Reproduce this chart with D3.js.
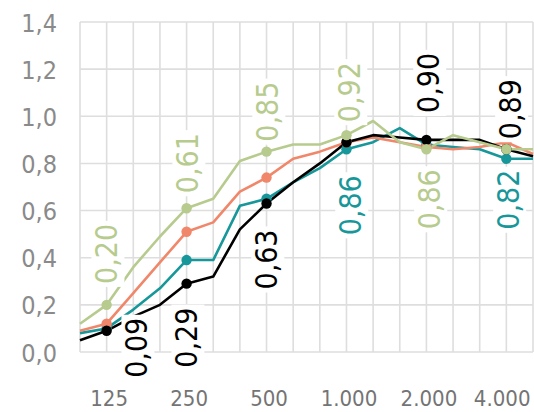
<!DOCTYPE html>
<html><head><meta charset="utf-8">
<script src="https://cdn.jsdelivr.net/npm/d3@7"></script>
<style>body{margin:0;background:#fff}svg{display:block}</style>
</head><body><svg id="c" width="534" height="412"></svg>
<script>
// ---- data ----
const bands = ["100","125","160","200","250","315","400","500","630","800","1000","1250","1600","2000","2500","3150","4000","5000"];
const tickBands = ["125","250","500","1000","2000","4000"];
const tickLabels = ["125","250","500","1.000","2.000","4.000"];
const yTicks = [0, 0.2, 0.4, 0.6, 0.8, 1.0, 1.2, 1.4];
const markerBands = ["125","250","500","1000","2000","4000"];

const seriesNames = ["teal","salmon","black","green"];
const teal   = [0.08,0.10,0.18,0.27,0.39,0.39,0.62,0.65,0.72,0.78,0.86,0.89,0.95,0.88,0.87,0.86,0.82,0.82];
const salmon = [0.09,0.12,0.25,0.38,0.51,0.55,0.68,0.74,0.82,0.85,0.89,0.91,0.89,0.87,0.86,0.87,0.89,0.84];
const black  = [0.05,0.09,0.15,0.20,0.29,0.32,0.52,0.63,0.72,0.80,0.89,0.92,0.91,0.90,0.90,0.90,0.86,0.83];
const green  = [0.12,0.20,0.36,0.49,0.61,0.65,0.81,0.85,0.88,0.88,0.92,0.98,0.89,0.86,0.92,0.89,0.86,0.86];

// data labels: which series / band is labelled
const labelSeries = ["green","black","green","black","green","black","green","teal","black","green","salmon","teal"];
const labelBands  = ["125","125","250","250","500","500","1000","1000","2000","2000","4000","4000"];

// ---- layout / style ----
const colors = {teal:"#17979a", salmon:"#f0876a", black:"#000000", green:"#b6cb8d"};
const labelColors = {teal:"#17979a", salmon:"#000000", black:"#000000", green:"#b6cb8d"};
const labelNudge = [[0,-51],[30,17],[1,-45],[0,54],[1,-40],[0,56],[3,-43],[4,56],[2,-57],[3,50],[4,-33],[2,41]];
const values = {teal, salmon, black, green};
const FONT = "'Liberation Sans Narrow','DejaVu Sans Condensed','Roboto Condensed',sans-serif";

const svg = d3.select("#c");
const x = d3.scalePoint().domain(bands).range([80, 533]);
const y = d3.scaleLinear().domain([0, 1.4]).range([352, 22]);

// grid
const grid = svg.append("g");
grid.selectAll("line.v").data(bands).join("line")
  .attr("x1", d => x(d)).attr("x2", d => x(d))
  .attr("y1", y(1.4)).attr("y2", y(0))
  .attr("stroke", "#dedede").attr("stroke-width", 1.6);
grid.selectAll("line.h").data(yTicks).join("line")
  .attr("x1", 80).attr("x2", 533)
  .attr("y1", d => y(d)).attr("y2", d => y(d))
  .attr("stroke", "#dedede").attr("stroke-width", 1.6);

// y axis labels
const yAxis = d3.axisLeft(y).tickValues(yTicks).tickSize(0).tickPadding(0)
  .tickFormat(d => d3.format(".1f")(d).replace(".", ","));
const ya = svg.append("g").attr("transform", "translate(57,0)").call(yAxis);
ya.select(".domain").remove();
ya.selectAll("text").attr("font-family", FONT).attr("font-size", 25).attr("fill", "#8a8a8a").attr("dy", "0.36em");

// x axis labels
const last = tickBands.length - 1;
const xAxis = d3.axisBottom(x).tickValues(tickBands).tickSize(0).tickPadding(0)
  .tickFormat((d, i) => tickLabels[i]);
const xa = svg.append("g").attr("transform", "translate(2,0)").call(xAxis);
xa.select(".domain").remove();
xa.selectAll("text").attr("font-family", FONT).attr("font-size", 22)
  .attr("fill", "#747474").attr("y", 406).attr("dy", 0)
  .attr("text-anchor", (d, i) => i === last ? "end" : "middle")
  .attr("x", (d, i) => i === last ? 530 - (x(d) + 2) : 0);

// lines
const line = d3.line().x((d, i) => x(bands[i])).y(d => y(d));
seriesNames.forEach(s => {
  svg.append("path").datum(values[s]).attr("d", line)
    .attr("fill", "none").attr("stroke", colors[s]).attr("stroke-width", 2.6)
    .attr("stroke-linejoin", "round");
});
// markers
seriesNames.forEach(s => {
  svg.append("g").selectAll("circle").data(markerBands).join("circle")
    .attr("cx", b => x(b)).attr("cy", b => y(values[s][bands.indexOf(b)]))
    .attr("r", 5.2).attr("fill", colors[s]);
});

// data labels
const fmt = v => d3.format(".2f")(v).replace(".", ",");
labelSeries.forEach((s, i) => {
  const b = labelBands[i];
  const v = values[s][bands.indexOf(b)];
  const [dx, dy] = labelNudge[i];
  const g = svg.append("g").attr("transform", `translate(${x(b) + dx},${y(v) + dy}) rotate(-90)`);
  const rect = g.append("rect").attr("fill", "#fff");
  const t = g.append("text").text(fmt(v))
    .attr("text-anchor", "middle").attr("dy", "0.36em")
    .attr("font-family", FONT).attr("font-size", 30).attr("fill", labelColors[s]);
  const bb = t.node().getBBox();
  rect.attr("x", bb.x - 3).attr("y", bb.y + 2).attr("width", bb.width + 6).attr("height", bb.height - 2);
});
</script></body></html>
